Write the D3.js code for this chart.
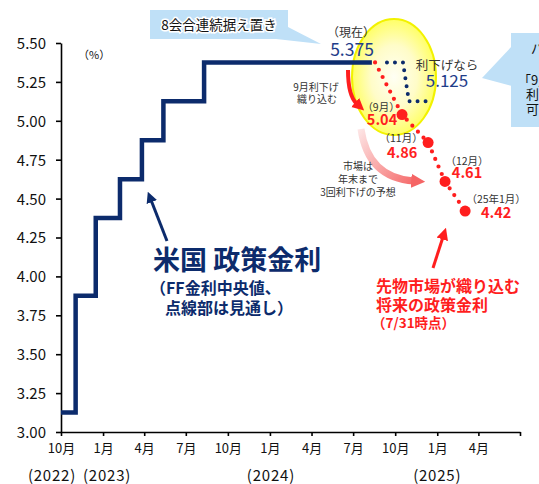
<!DOCTYPE html>
<html><head><meta charset="utf-8">
<script src="https://cdn.jsdelivr.net/npm/d3@7"></script>
<style>
body{margin:0;background:#fff}
svg{display:block;font-family:"Noto Sans CJK JP","Noto Sans",sans-serif}
</style>
</head><body>
<svg id="c" width="539" height="484"></svg>
<script>
// ---- data ----
const policyDates = ["2022-10-01","2022-11-02","2022-12-16","2023-02-07","2023-03-27","2023-05-13","2023-08-10","2024-08-11"];
const policyRates = [3.125, 3.875, 4.375, 4.625, 4.875, 5.125, 5.375, 5.375];
const holdDates = ["2024-09-13","2024-10-18","2024-10-31","2024-12-09"];
const holdRates = [5.375, 5.375, 5.125, 5.125];
const marketDates = ["2024-08-18","2024-10-16","2024-12-12","2025-01-18","2025-03-03"];
const marketRates = [5.375, 5.04, 4.86, 4.61, 4.42];
const marketLabels = ["", "（9月）", "（11月）", "（12月）", "（25年1月）"];
const yTicks = [3.00, 3.25, 3.50, 3.75, 4.00, 4.25, 4.50, 4.75, 5.00, 5.25, 5.50];
const xTickLabels = ["10月","1月","4月","7月","10月","1月","4月","7月","10月","1月","4月",""];
const yearLabels = ["(2022)","(2023)","(2024)","(2025)"];
const yearDates = ["2022-10-01","2023-01-01","2024-01-01","2025-01-01"];

// ---- layout ----
const svg = d3.select("#c");
const P = d3.timeParse("%Y-%m-%d");
const x = d3.scaleTime().domain([P("2022-10-01"), P("2025-07-01")]).range([61, 520]);
const y = d3.scaleLinear().domain([3, 5.5]).range([432, 43]);
const NAVY = "#0c2b6c", BLUE = "#1f3d8a", RED = "#ff1e1e", GRAY = "#333";

const defs = svg.append("defs");
const rg = defs.append("radialGradient").attr("id","glow");
rg.append("stop").attr("offset","0%").attr("stop-color","#fffff4");
rg.append("stop").attr("offset","55%").attr("stop-color","#fffcc8");
rg.append("stop").attr("offset","100%").attr("stop-color","#ffff66");
const lg = defs.append("linearGradient").attr("id","pinkg").attr("gradientUnits","userSpaceOnUse")
  .attr("x1",360).attr("y1",128).attr("x2",420).attr("y2",182);
lg.append("stop").attr("offset","0%").attr("stop-color","#fde6e6");
lg.append("stop").attr("offset","100%").attr("stop-color","#f56565");
function marker(id, color, w, h){
  defs.append("marker").attr("id",id).attr("viewBox","0 0 10 10").attr("refX",2).attr("refY",5)
    .attr("markerUnits","userSpaceOnUse").attr("markerWidth",w).attr("markerHeight",h).attr("orient","auto")
    .append("path").attr("d","M0,0 L10,5 L0,10 Z").attr("fill",color);
}
marker("mNavy", NAVY, 11, 12);
marker("mRed", RED, 12, 13);
marker("mRed2", RED, 12, 14);
marker("mPink", "#f56565", 14, 16);

// highlight ellipse
svg.append("ellipse").attr("cx",394).attr("cy",77).attr("rx",42).attr("ry",58)
  .attr("fill","url(#glow)").attr("stroke","#f2f200").attr("stroke-width",2);

// axes
const yAxis = d3.axisLeft(y).tickValues(yTicks).tickFormat(d3.format(".2f")).tickSize(5).tickSizeOuter(0);
const gy = svg.append("g").attr("transform","translate(61,0)").call(yAxis);
gy.select(".domain").attr("stroke","#000").attr("stroke-width",1.6);
gy.selectAll(".tick line").attr("stroke","#000").attr("stroke-width",1.6);
gy.selectAll(".tick text").attr("font-size",15).attr("fill","#111").attr("x",-15).attr("dy","0.36em")
  .attr("font-family","'Noto Sans CJK JP',sans-serif");

const xTickVals = d3.timeMonth.every(3).range(P("2022-10-01"), P("2025-07-02"));
const xAxis = d3.axisBottom(x).tickValues(xTickVals).tickFormat((d,i)=>xTickLabels[i]).tickSize(4).tickSizeOuter(0);
const gx = svg.append("g").attr("transform","translate(0,432)").call(xAxis);
gx.select(".domain").attr("stroke","#000").attr("stroke-width",1.6);
gx.selectAll(".tick line").attr("stroke","#000").attr("stroke-width",1.6);
gx.selectAll(".tick text").attr("font-size",13).attr("fill","#111").attr("y",12)
  .attr("font-family","'Noto Sans CJK JP',sans-serif");

const yearOffsets = [-9, 4, 1, 0];
svg.selectAll(".yr").data(yearLabels).join("text").attr("class","yr")
  .attr("x",(d,i)=>x(P(yearDates[i]))+yearOffsets[i]).attr("y",481)
  .attr("text-anchor","middle").attr("font-size",15).attr("letter-spacing",0.8).attr("fill","#111").text(d=>d);

svg.append("text").attr("x",78).attr("y",59).attr("font-size",11).attr("fill","#111").text("（%）");

// policy step line
const pol = policyDates.map((d,i)=>({d:P(d), v:policyRates[i]}));
svg.append("path").datum(pol)
  .attr("d", d3.line().x(p=>x(p.d)).y(p=>y(p.v)).curve(d3.curveStepAfter))
  .attr("fill","none").attr("stroke",NAVY).attr("stroke-width",4.5).attr("stroke-linejoin","miter");

// hold scenario dotted
const hold = holdDates.map((d,i)=>({d:P(d), v:holdRates[i]}));
svg.append("path").datum(hold)
  .attr("d", d3.line().x(p=>x(p.d)).y(p=>y(p.v)))
  .attr("fill","none").attr("stroke",NAVY).attr("stroke-width",4).attr("stroke-linecap","round")
  .attr("stroke-dasharray","0 8");

// market path dotted
const mk = marketDates.map((d,i)=>({d:P(d), v:marketRates[i], l:marketLabels[i]}));
svg.append("path").datum(mk)
  .attr("d", d3.line().x(p=>x(p.d)).y(p=>y(p.v)))
  .attr("fill","none").attr("stroke",RED).attr("stroke-width",4.2).attr("stroke-linecap","round")
  .attr("stroke-dasharray","0 8.2");
const mkPts = mk.slice(1);
svg.selectAll(".big").data(mkPts).join("circle").attr("class","big")
  .attr("cx",p=>x(p.d)).attr("cy",p=>y(p.v)).attr("r",5.5).attr("fill",RED);
const lblOff = [[-21,-4,-20,10],[-27,-1,-26,15],[22,-16,22,-3],[31,-8,31,7]];
svg.selectAll(".mlab").data(mkPts).join("text").attr("class","mlab")
  .attr("x",(p,i)=>x(p.d)+lblOff[i][0]).attr("y",(p,i)=>y(p.v)+lblOff[i][1])
  .attr("text-anchor","middle").attr("font-size",10.5).attr("fill",GRAY).text(p=>p.l);
svg.selectAll(".mval").data(mkPts).join("text").attr("class","mval")
  .attr("x",(p,i)=>x(p.d)+lblOff[i][2]).attr("y",(p,i)=>y(p.v)+lblOff[i][3])
  .attr("text-anchor","middle").attr("font-size",14.5).attr("font-weight","bold").attr("fill",RED)
  .text(p=>d3.format(".2f")(p.v));

// current / hold labels
svg.append("text").attr("x",351).attr("y",37).attr("text-anchor","middle").attr("font-size",12).attr("fill",GRAY).text("（現在）");
svg.append("text").attr("x",352).attr("y",56).attr("text-anchor","middle").attr("font-size",17.5).attr("fill",BLUE).text("5.375");
svg.append("text").attr("x",447).attr("y",70).attr("text-anchor","middle").attr("font-size",12.5).attr("fill",GRAY).text("利下げなら");
svg.append("text").attr("x",447).attr("y",87).attr("text-anchor","middle").attr("font-size",17).attr("fill",BLUE).text("5.125");

// callout 1
svg.append("polygon").attr("points","276,39 288,27 321,44").attr("fill","#bfe0f7");
svg.append("rect").attr("x",150).attr("y",10).attr("width",138).attr("height",29).attr("fill","#bfe0f7");
svg.append("text").attr("x",219).attr("y",30).attr("text-anchor","middle").attr("font-size",13.5)
  .attr("fill","#111").attr("stroke","#fff").attr("stroke-width",3).attr("paint-order","stroke")
  .text("8会合連続据え置き");

// callout 2 (runs off the right edge, as in the reference)
svg.append("polygon").attr("points","512,46 482,78 512,86").attr("fill","#bfe0f7");
svg.append("rect").attr("x",511).attr("y",33).attr("width",40).attr("height",94).attr("fill","#bfe0f7");
const c2 = [["パウエル議長",531,53],["「9月会合での",518,85],["利下げも",526,99],["可能性」",526,114]];
svg.selectAll(".c2").data(c2).join("text").attr("class","c2")
  .attr("x",d=>d[1]).attr("y",d=>d[2]).attr("font-size",13).attr("fill","#111").text(d=>d[0]);

// 9月利下げ arrow + text
svg.append("text").attr("x",316).attr("y",91).attr("text-anchor","middle").attr("font-size",10).attr("fill",GRAY).text("9月利下げ");
svg.append("text").attr("x",317).attr("y",103).attr("text-anchor","middle").attr("font-size",10).attr("fill",GRAY).text("織り込む");
svg.append("path").attr("d","M348,70 Q348,96 357,104").attr("fill","none").attr("stroke",RED)
  .attr("stroke-width",4).attr("marker-end","url(#mRed)");

// pink arrow + text
svg.append("path").attr("d","M361,129 Q368,178 414,181").attr("fill","none").attr("stroke","url(#pinkg)")
  .attr("stroke-width",7).attr("marker-end","url(#mPink)");
const mt = [["市場は",170],["年末まで",183],["3回利下げの予想",196]];
svg.selectAll(".mt").data(mt).join("text").attr("class","mt").attr("x",358).attr("y",d=>d[1])
  .attr("text-anchor","middle").attr("font-size",10).attr("fill",GRAY).text(d=>d[0]);

// big navy title
svg.append("text").attr("x",153).attr("y",270).attr("font-size",27).attr("font-weight","bold").attr("fill",NAVY).text("米国 政策金利");
svg.append("text").attr("x",150).attr("y",294).attr("font-size",16).attr("font-weight","bold").attr("fill",NAVY).text("（FF金利中央値、");
svg.append("text").attr("x",165).attr("y",314).attr("font-size",16).attr("font-weight","bold").attr("fill",NAVY).text("点線部は見通し）");
svg.append("line").attr("x1",167).attr("y1",241).attr("x2",151).attr("y2",200).attr("stroke",NAVY)
  .attr("stroke-width",3).attr("marker-end","url(#mNavy)");

// red annotation
svg.append("line").attr("x1",433).attr("y1",268).attr("x2",443).attr("y2",237).attr("stroke",RED)
  .attr("stroke-width",3).attr("marker-end","url(#mRed2)");
const rt = [["先物市場が織り込む",292,16],["将来の政策金利",311,16],["（7/31時点）",328,13.5]];
svg.selectAll(".rt").data(rt).join("text").attr("class","rt").attr("x",(d,i)=>i==2?372:376).attr("y",d=>d[1])
  .attr("font-size",d=>d[2]).attr("font-weight","bold").attr("fill",RED).text(d=>d[0]);
</script>
</body></html>
